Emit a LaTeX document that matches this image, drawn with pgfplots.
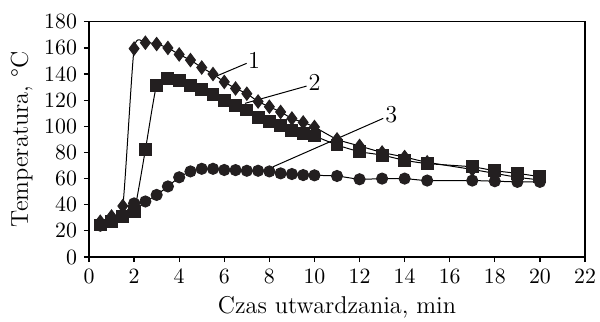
\documentclass[border=0pt]{standalone}
\usepackage{pgfplots}
\pgfplotsset{compat=1.18}
\definecolor{mk}{HTML}{231F20}
\begin{document}
\begin{tikzpicture}
\begin{axis}[
  scale only axis, width=248bp, height=117.6bp,
  xmin=0, xmax=22, ymin=0, ymax=180,
  xtick distance=2, ytick distance=20,
  tick align=outside, xtick pos=bottom, ytick pos=left,
  major tick length=2.5bp,
  axis line style={line width=0.6pt},
  tick style={line width=0.6pt, black},
  tick label style={font=\fontsize{11.2}{13}\selectfont},
  label style={font=\fontsize{12.2}{14}\selectfont},
  xlabel={Czas utwardzania, min},
  ylabel={Temperatura, \textdegree C},
  xlabel style={yshift=0bp},
  ylabel style={yshift=-1bp},
  every axis plot/.append style={line width=0.5pt, black, smooth, tension=0.35},
]
\addplot[mark=diamond*, mark size=3.3pt, mark options={fill=mk, draw=mk}] coordinates {
(0.5,27) (1,31) (1.5,39) (2,159.5) (2.5,164) (3,163) (3.5,160) (4,155) (4.5,150.7)
(5,145) (5.5,140) (6,134) (6.5,129) (7,125) (7.5,119) (8,115) (8.5,111) (9,106)
(9.5,103) (10,99.5) (11,90) (12,85) (13,80) (14,76.5) (15,72.5) (17,67) (18,64) (19,61) (20,59)};
\addplot[mark=square*, mark size=3pt, mark options={fill=mk, draw=mk}] coordinates {
(0.5,24.5) (1,27) (1.5,31) (2,35) (2.5,82) (3,131.6) (3.5,136.7) (4,135.4) (4.5,131)
(5,128) (5.5,124) (6,120) (6.5,116) (7,112.5) (7.5,107) (8,103.5) (8.5,101) (9,97)
(9.5,94.6) (10,92.6) (11,85.7) (12,80.6) (13,78) (14,74) (15,71.5) (17,69) (18,66) (19,64) (20,61.5)};
\addplot[mark=*, mark size=2.8pt, mark options={fill=mk, draw=mk}] coordinates {
(0.5,24) (1,27) (1.5,32) (2,41) (2.5,42.5) (3,47.5) (3.5,54) (4,61) (4.5,65.5)
(5,67.5) (5.5,67.5) (6,66.6) (6.5,66.5) (7,66) (7.5,66) (8,65.5) (8.5,64) (9,63.5)
(9.5,62.7) (10,62.5) (11,62) (12,59.5) (13,60) (14,60) (15,58.5) (17,58.5) (18,58) (19,57.5) (20,57.5)};
\draw[line width=0.5pt] (axis cs:5.66,138.5) -- (axis cs:6.99,148.2);
\node[anchor=west, inner sep=0.5pt, font=\fontsize{12.2}{14}\selectfont] at (axis cs:7.0,150.5) {1};
\draw[line width=0.5pt] (axis cs:6.92,117.6) -- (axis cs:9.65,130.8);
\node[anchor=west, inner sep=0.5pt, font=\fontsize{12.2}{14}\selectfont] at (axis cs:9.68,133.5) {2};
\draw[line width=0.5pt] (axis cs:8.17,69.1) -- (axis cs:13.05,106.1);
\node[anchor=west, inner sep=0.5pt, font=\fontsize{12.2}{14}\selectfont] at (axis cs:13.08,108.8) {3};
\end{axis}
\pgfresetboundingbox
\path (current axis.south west) ++(-44.5bp,-32.5bp) rectangle ++(300bp,161bp);
\end{tikzpicture}
\end{document}
